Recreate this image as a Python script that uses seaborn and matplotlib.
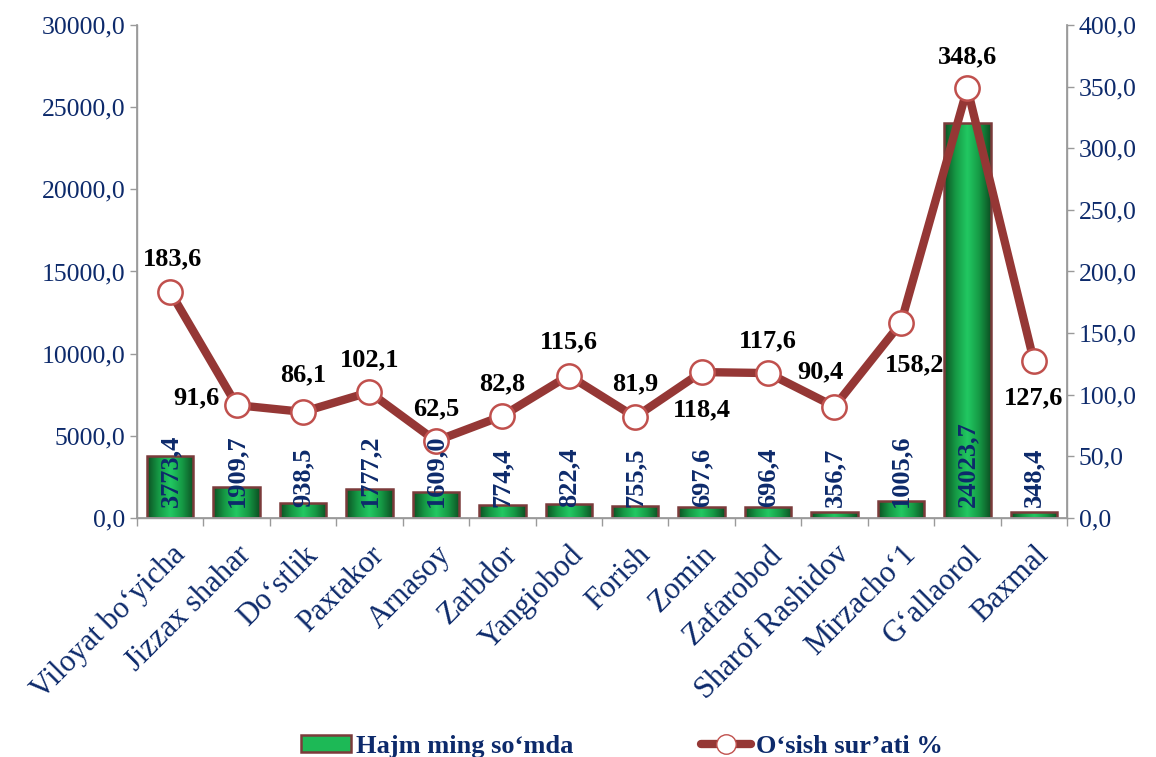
import numpy as np
import matplotlib
matplotlib.use("Agg")
import matplotlib.pyplot as plt
import seaborn as sns
from matplotlib.patches import Patch
from matplotlib.lines import Line2D
from matplotlib.colors import LinearSegmentedColormap
from matplotlib.ticker import FuncFormatter, FixedLocator

categories = ["Viloyat bo\u2018yicha", "Jizzax shahar", "Do\u2018stlik", "Paxtakor", "Arnasoy",
              "Zarbdor", "Yangiobod", "Forish", "Zomin", "Zafarobod", "Sharof Rashidov",
              "Mirzacho\u20181", "G\u2018allaorol", "Baxmal"]
volume = [3773.4, 1909.7, 938.5, 1777.2, 1609.0, 774.4, 822.4, 755.5, 697.6, 696.4,
          356.7, 1005.6, 24023.7, 348.4]
growth = [183.6, 91.6, 86.1, 102.1, 62.5, 82.8, 115.6, 81.9, 118.4, 117.6, 90.4,
          158.2, 348.6, 127.6]
bar_name = "Hajm ming so\u2018mda"
line_name = "O\u2018sish sur\u2019ati %"

# label offsets (points) for the growth labels: layout only
label_offsets = [(2, 24), (-29, 5), (0, 27), (0, 23), (0, 23), (0, 23), (0, 24), (0, 24),
                 (0, -27), (0, 23), (-10, 25), (10, -30), (0, 23), (0, -27)]

sns.set_theme(style="white")
plt.rcParams['font.family'] = ['Liberation Serif', 'DejaVu Serif']

navy = "#0D2A6B"
line_col = "#953735"
grey = "#9A9A9A"
bar_green = "#1DB956"
bar_edge = "#7B3B3B"

fig = plt.figure(figsize=(11.56, 7.57), dpi=100)
ax = fig.add_axes([0.1185, 0.3157, 0.8045, 0.6513])

sns.barplot(x=categories, y=volume, ax=ax, color=bar_green, width=0.7,
            edgecolor=bar_edge, linewidth=1.8, saturation=1, zorder=2)

# bevel-like gradient fill for the bars
cmap = LinearSegmentedColormap.from_list("bev", ["#0B4F22", "#169A45", "#22C862", "#169A45", "#0B4F22"])
grad = np.linspace(0, 1, 256).reshape(1, -1)
for p in list(ax.patches):
    x0, y0, w, h = p.get_x(), p.get_y(), p.get_width(), p.get_height()
    im = ax.imshow(grad, extent=[x0, x0 + w, y0, y0 + h], aspect='auto', cmap=cmap,
                   zorder=1.5, interpolation='bicubic')
    im.set_clip_path(p)
    p.set_facecolor('none')

ax.set_ylim(0, 30000)
ax.set_xlim(-0.5, len(categories) - 0.5)
ax.set_aspect('auto')
ax.yaxis.set_major_locator(FixedLocator(np.arange(0, 30001, 5000)))
ax.yaxis.set_major_formatter(FuncFormatter(lambda v, p: f"{v:.1f}".replace(".", ",")))
ax.tick_params(axis='y', labelsize=18.5, labelcolor=navy, color=grey, length=5, width=1, left=True)
ax.set_xticks(range(len(categories)))
ax.set_xticklabels(categories, rotation=45, ha='right', rotation_mode='anchor',
                   fontsize=22, color=navy)
ax.tick_params(axis='x', which='major', length=0, pad=16)
ax.set_xticks(np.arange(-0.5, len(categories), 1), minor=True)
ax.tick_params(axis='x', which='minor', length=6, color=grey, width=1, bottom=True)
ax.set_xlabel("")
ax.set_ylabel("")
for s in ["left", "bottom", "right"]:
    ax.spines[s].set_color(grey)
    ax.spines[s].set_linewidth(1)
ax.spines["top"].set_visible(False)

ax2 = ax.twinx()
sns.lineplot(x=np.arange(len(categories)), y=growth, ax=ax2, color=line_col, linewidth=6,
             marker='o', markersize=17.5, markerfacecolor='white', markeredgecolor='#C0504D',
             markeredgewidth=1.8, zorder=4)
ax2.set_ylim(0, 400)
ax2.set_xlim(-0.5, len(categories) - 0.5)
ax2.yaxis.set_major_locator(FixedLocator(np.arange(0, 401, 50)))
ax2.yaxis.set_major_formatter(FuncFormatter(lambda v, p: f"{v:.1f}".replace(".", ",")))
ax2.tick_params(axis='y', labelsize=18.5, labelcolor=navy, color=grey, length=5, width=1, right=True)
ax2.set_ylabel("")
for s in ["left", "bottom", "right"]:
    ax2.spines[s].set_color(grey)
ax2.spines["top"].set_visible(False)

# bar value labels drawn above the line (inside base)
for i, v in enumerate(volume):
    ax2.text(i, 650, f"{v:.1f}".replace(".", ","), rotation=90, ha='center', va='bottom',
             fontsize=19, fontweight='bold', color=navy, zorder=6, transform=ax.transData)

for i, (g, off) in enumerate(zip(growth, label_offsets)):
    ax2.annotate(f"{g:.1f}".replace(".", ","), (i, g), xytext=off, textcoords='offset points',
                 ha='center', va='center', fontsize=19, fontweight='bold', color='black')

handles = [Patch(facecolor=bar_green, edgecolor=bar_edge, linewidth=1.8),
           Line2D([0], [0], color=line_col, linewidth=6, marker='o', markersize=14,
                  markerfacecolor='white', markeredgecolor='#C0504D')]
fig.legend(handles, [bar_name, line_name], loc='center', bbox_to_anchor=(0.538, 0.014),
           ncol=2, frameon=False, columnspacing=4.8, handlelength=1.9, handletextpad=0.2,
           handleheight=0.6,
           prop={'family': 'Liberation Serif', 'weight': 'bold', 'size': 19},
           labelcolor=navy)

fig.savefig("out.png", dpi=100)
